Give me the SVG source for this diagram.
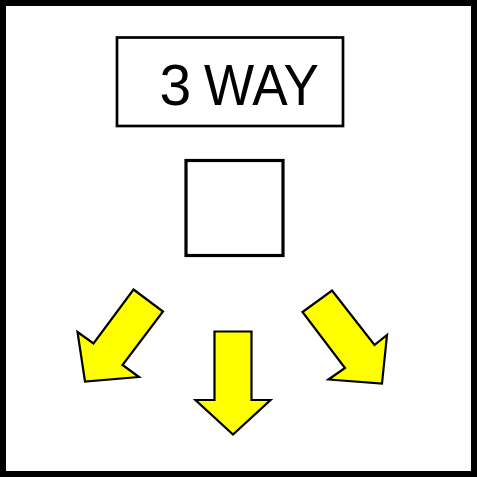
<svg xmlns="http://www.w3.org/2000/svg" width="477" height="477" viewBox="0 0 477 477">
<style>
.box{fill:#fff;stroke:#000}
.arrow{fill:#ffff00;stroke:#000;stroke-width:2.2;stroke-linejoin:miter}
.title{font-family:"Liberation Sans",Arial,sans-serif;font-size:57px;fill:#000}
</style>
<rect x="0" y="0" width="477" height="477" fill="#fff"/>
<g id="frame"><rect class="box" x="3" y="3" width="471" height="471" stroke-width="6"/></g>
<g id="title">
<rect class="box" x="117" y="37.5" width="226" height="88.5" stroke-width="2.7"/>
<text class="title" x="159.5" y="105">3 <tspan x="204" textLength="115" lengthAdjust="spacingAndGlyphs">WAY</tspan></text>
</g>
<g id="center-box"><rect class="box" x="186" y="160.5" width="97" height="95" stroke-width="3.2"/></g>
<g id="arrows">
<polygon id="arrow-left" class="arrow" points="133.5,289.5 163,311.5 122.5,365 139,377 85,381.5 77.5,332 93.5,343.5"/>
<polygon id="arrow-down" class="arrow" points="214.5,331.5 251.5,331.5 251.5,400 270.5,400 233,434.5 195.5,400 214.5,400"/>
<polygon id="arrow-right" class="arrow" points="332,290.5 374.5,345 387,335 382,383.5 328.5,379.5 345,368 302.5,312"/>
</g>
</svg>
